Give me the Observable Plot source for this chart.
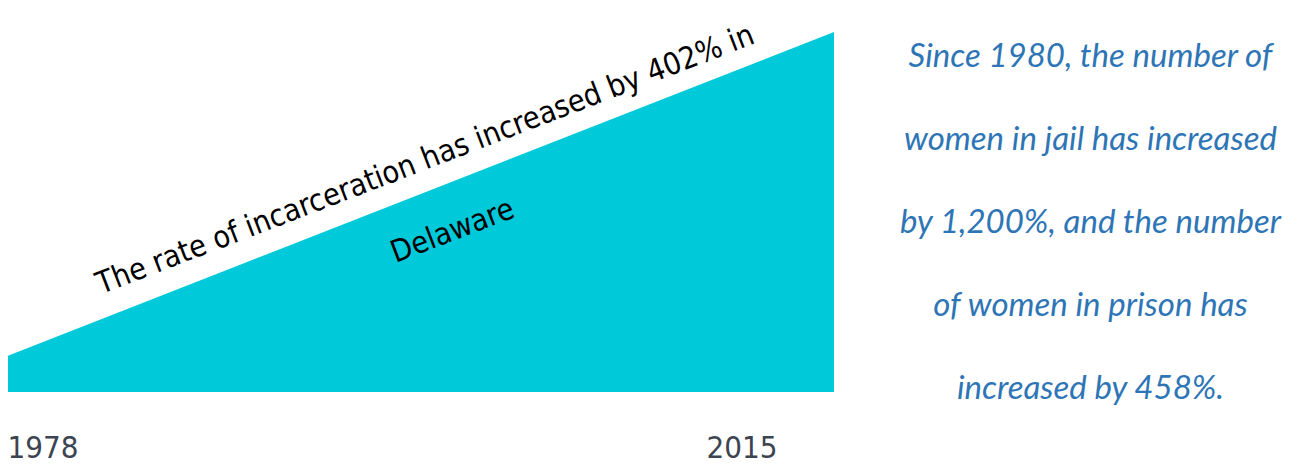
<!DOCTYPE html>
<html>
<head>
<meta charset="utf-8">
<script src="https://cdn.jsdelivr.net/npm/d3@7"></script>
<script src="https://cdn.jsdelivr.net/npm/@observablehq/plot@0.6"></script>
<style>
  html, body { margin: 0; padding: 0; background: #ffffff; }
  #wrap { display: flex; width: 1301px; height: 466px; overflow: hidden; }
  #chart { width: 880px; height: 466px; flex: none; }
  #note { width: 421px; flex: none; padding-top: 13px; font-family: Lato, "Open Sans", sans-serif; font-style: italic; color: #2e75b6; font-size: 33px; text-align: center; }
  #note div { height: 83px; line-height: 83px; white-space: nowrap; }
</style>
</head>
<body>
<div id="wrap"><div id="chart"></div><div id="note"></div></div>
<script>
// Data
const years = [1978, 2015];
const rates = [100, 502];          // index: 1978 = 100, +402% by 2015
const baseline = 55;               // visual floor of the wedge
const yearLabels = ["1978", "2015"];
const annotationLines = ["The rate of incarceration has increased by 402% in", "Delaware"];
const noteLines = [
  "Since 1980, the number of",
  "women in jail has increased",
  "by 1,200%, and the number",
  "of women in prison has",
  "increased by 458%."
];

const data = years.map((year, i) => ({year, rate: rates[i], label: yearLabels[i]}));
const mid = [{year: d3.mean(years), rate: d3.mean(rates), text: annotationLines.join("\n")}];
const font = "DejaVu Sans Condensed, DejaVu Sans, sans-serif";

const chart = Plot.plot({
  width: 880,
  height: 466,
  marginLeft: 8,
  marginRight: 46,
  marginTop: 32,
  marginBottom: 74,
  x: {domain: d3.extent(years), axis: null},
  y: {domain: [baseline, d3.max(rates)], axis: null},
  style: {background: "#ffffff", overflow: "visible"},
  marks: [
    Plot.areaY(data, {x: "year", y1: baseline, y2: "rate", fill: "#00c9da"}),
    Plot.text(mid, {x: "year", y: "rate", text: "text", rotate: -21, fontSize: 30.5, lineHeight: 2.5,
      fontFamily: font, fill: "#000000", dx: 12, dy: -13}),
    Plot.text(data.slice(0, 1), {x: "year", frameAnchor: "bottom", text: "label", textAnchor: "start", lineAnchor: "bottom",
      dy: 65, dx: -1, fontSize: 31, fontFamily: font, fill: "#3d4451"}),
    Plot.text(data.slice(1), {x: "year", frameAnchor: "bottom", text: "label", textAnchor: "end", lineAnchor: "bottom",
      dy: 65, dx: -57, fontSize: 31, fontFamily: font, fill: "#3d4451"})
  ]
});
document.getElementById("chart").appendChild(chart);

const note = d3.select("#note");
note.selectAll("div").data(noteLines).join("div").text(d => d);
</script>
</body>
</html>
